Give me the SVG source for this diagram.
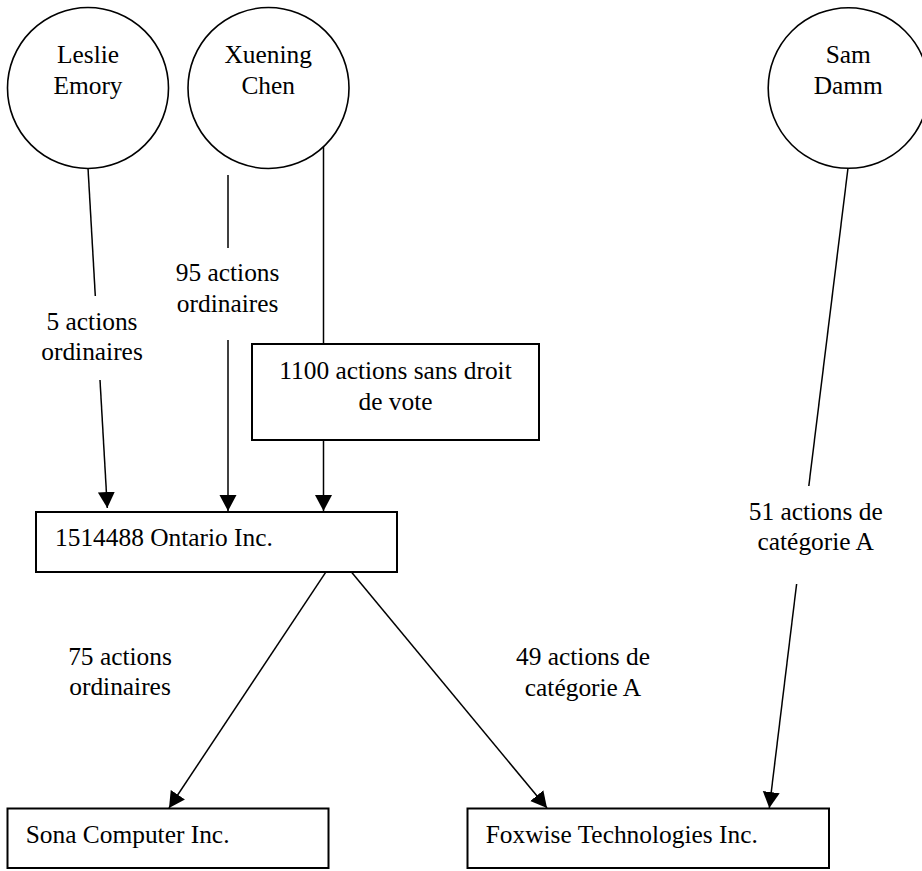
<svg xmlns="http://www.w3.org/2000/svg" width="922" height="871" viewBox="0 0 922 871">
<defs>
<style>
text{font-family:'Liberation Serif','Times New Roman',serif;font-size:25.4px;fill:#000}
.c{text-anchor:middle}
.node{fill:#fff;stroke:#000;stroke-width:1.6}
.box{fill:#fff;stroke:#000;stroke-width:2}
.ln{fill:none;stroke:#000;stroke-width:1.5}
</style>
<marker id="ah" markerUnits="userSpaceOnUse" markerWidth="17" markerHeight="18" refX="16" refY="9" orient="auto" viewBox="0 0 17 18">
<path d="M0,0.5 L16,9 L0,17.5 z" fill="#000"/>
</marker>
</defs>
<rect width="922" height="871" fill="#fff"/>
<g id="connectors">
<line class="ln" x1="88" y1="168" x2="95.3" y2="296"/>
<line class="ln" x1="100" y1="380" x2="107.3" y2="508" marker-end="url(#ah)"/>
<line class="ln" x1="228" y1="175" x2="228" y2="248"/>
<line class="ln" x1="228" y1="340" x2="228" y2="511" marker-end="url(#ah)"/>
<line class="ln" x1="323.5" y1="127" x2="323.5" y2="344"/>
<line class="ln" x1="323.5" y1="440" x2="323.5" y2="511" marker-end="url(#ah)"/>
<line class="ln" x1="328.3" y1="568.3" x2="169" y2="808" marker-end="url(#ah)"/>
<line class="ln" x1="348.3" y1="568.3" x2="547" y2="808" marker-end="url(#ah)"/>
<line class="ln" x1="848" y1="168" x2="808.8" y2="486"/>
<line class="ln" x1="796.6" y1="584" x2="769.3" y2="808" marker-end="url(#ah)"/>
<text class="c" x="92" y="330">5 actions</text>
<text class="c" x="92" y="360">ordinaires</text>
<text class="c" x="227.6" y="281">95 actions</text>
<text class="c" x="227.6" y="312">ordinaires</text>
<text class="c" x="120" y="665">75 actions</text>
<text class="c" x="120" y="695">ordinaires</text>
<text class="c" x="583" y="665">49 actions de</text>
<text class="c" x="583" y="695.5">catégorie A</text>
<text class="c" x="815.7" y="520">51 actions de</text>
<text class="c" x="815.7" y="550">catégorie A</text>
</g>
<g id="leslie">
<circle class="node" cx="88" cy="88" r="80.5"/>
<text class="c" x="88" y="63">Leslie</text>
<text class="c" x="88" y="94">Emory</text>
</g>
<g id="xuening">
<circle class="node" cx="268.5" cy="88" r="80.5"/>
<text class="c" x="268.2" y="63">Xuening</text>
<text class="c" x="268.2" y="94">Chen</text>
</g>
<g id="sam">
<circle class="node" cx="848.5" cy="88" r="80.3"/>
<text class="c" x="848.3" y="63">Sam</text>
<text class="c" x="848.3" y="94">Damm</text>
</g>
<g id="shares1100">
<rect class="box" x="252" y="344" width="287" height="96"/>
<text class="c" x="395.5" y="379">1100 actions sans droit</text>
<text class="c" x="395.5" y="410">de vote</text>
</g>
<g id="ontario">
<rect class="box" x="36" y="512" width="361" height="60"/>
<text x="55" y="546">1514488 Ontario Inc.</text>
</g>
<g id="sona">
<rect class="box" x="7.5" y="808.5" width="321" height="59.5"/>
<text x="25.7" y="843">Sona Computer Inc.</text>
</g>
<g id="foxwise">
<rect class="box" x="467.5" y="808.5" width="361.5" height="59.5"/>
<text x="485.7" y="843">Foxwise Technologies Inc.</text>
</g>
</svg>
